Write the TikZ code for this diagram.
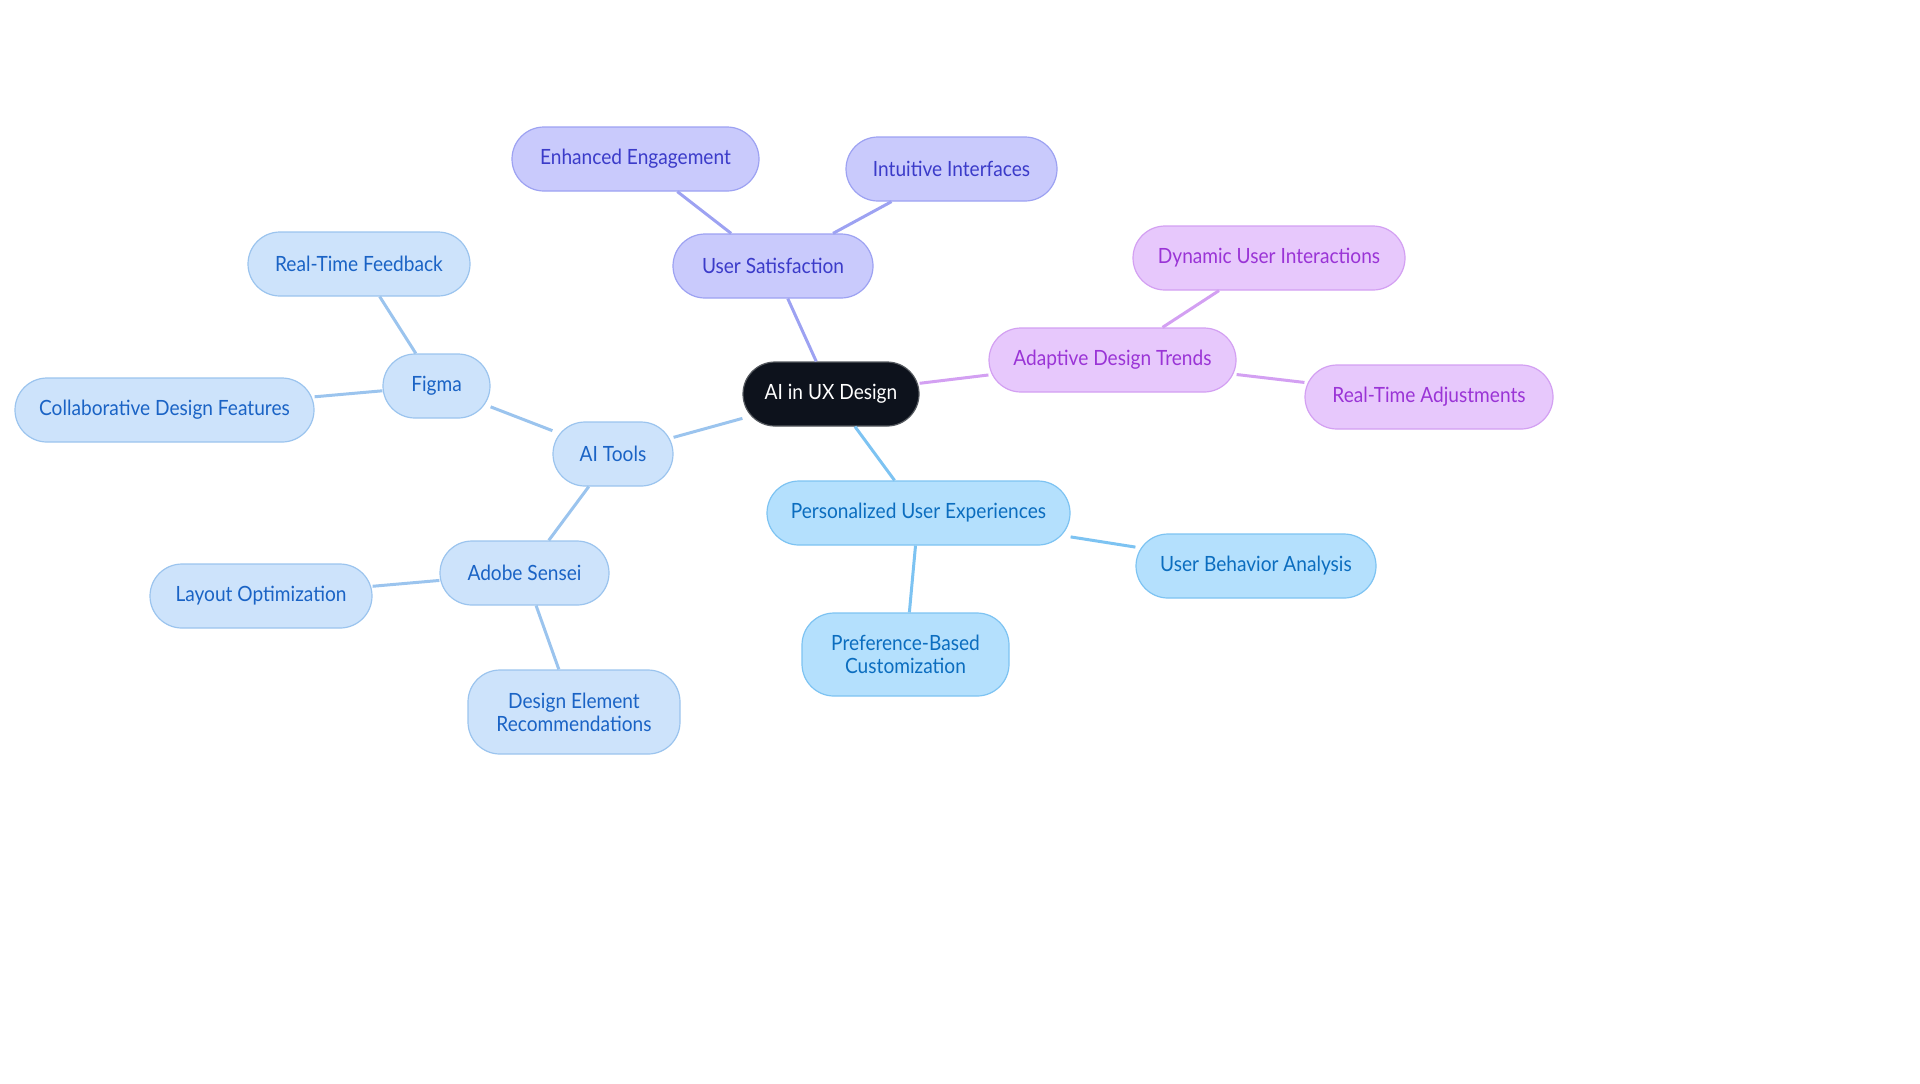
\documentclass[tikz,border=0pt]{standalone}
\usepackage{fontspec}
\setmainfont[FakeStretch=0.91]{Lato}

\definecolor{noir}{HTML}{0D121C}
\definecolor{noirbord}{HTML}{55595F}
\definecolor{satfond}{HTML}{C9CAFC}
\definecolor{satbord}{HTML}{9DA2F2}
\definecolor{sattexte}{HTML}{3B3BC9}
\definecolor{adafond}{HTML}{E7C8FC}
\definecolor{adabord}{HTML}{D3A0F2}
\definecolor{adatexte}{HTML}{9A34D6}
\definecolor{perfond}{HTML}{B4E0FD}
\definecolor{perbord}{HTML}{7DC3F2}
\definecolor{pertexte}{HTML}{0B6DBF}
\definecolor{outfond}{HTML}{CDE3FB}
\definecolor{outbord}{HTML}{9BC4EE}
\definecolor{outtexte}{HTML}{1A63C5}

\begin{document}
\begin{tikzpicture}[x=0.5pt, y=-0.5pt,
    bulle/.style={rounded corners=16pt, minimum height=32pt, inner sep=0pt,
        line width=0.6pt, align=center,
        font=\fontsize{10.5}{11.5}\selectfont},
    sat/.style={bulle, fill=satfond, draw=satbord, text=sattexte},
    ada/.style={bulle, fill=adafond, draw=adabord, text=adatexte},
    per/.style={bulle, fill=perfond, draw=perbord, text=pertexte},
    outil/.style={bulle, fill=outfond, draw=outbord, text=outtexte},
    lien/.style={line width=1.5pt}]
    \useasboundingbox (0,0) rectangle (1920,1083);

    % Centre
    \node[bulle, fill=noir, draw=noirbord, text=white, minimum width=88pt] (UX) at (831,394) {AI in UX Design};

    % User Satisfaction
    \node[sat, minimum width=100pt] (US) at (773,266) {User Satisfaction};
    \node[sat, minimum width=123.5pt] (EE) at (635.5,159) {Enhanced Engagement};
    \node[sat, minimum width=105.5pt] (II) at (951.5,169) {Intuitive Interfaces};

    % Adaptive Design Trends
    \node[ada, minimum width=123.5pt] (ADT) at (1112.5,360) {Adaptive Design Trends};
    \node[ada, minimum width=136pt] (DUI) at (1269,258) {Dynamic User Interactions};
    \node[ada, minimum width=124pt] (RTA) at (1429,397) {Real-Time Adjustments};

    % Personalized User Experiences
    \node[per, minimum width=151.5pt] (PUE) at (918.5,513) {Personalized User Experiences};
    \node[per, minimum width=120pt] (UBA) at (1256,566) {User Behavior Analysis};
    \node[per, minimum width=103.5pt, minimum height=41.5pt] (PBC) at (905.5,654.5) {Preference-Based\\Customization};

    % AI Tools
    \node[outil, minimum width=60pt] (AT) at (613,454) {AI Tools};
    \node[outil, minimum width=53.5pt] (FG) at (436.5,386) {Figma};
    \node[outil, minimum width=111pt] (RTF) at (359,264) {Real-Time Feedback};
    \node[outil, minimum width=149.5pt] (CDF) at (164.5,410) {Collaborative Design Features};
    \node[outil, minimum width=84.5pt] (AS) at (524.5,573) {Adobe Sensei};
    \node[outil, minimum width=111pt] (LO) at (261,596) {Layout Optimization};
    \node[outil, minimum width=106pt, minimum height=42pt] (DER) at (574,712) {Design Element\\Recommendations};

    % Liens
    \draw[lien, color=satbord] (UX) -- (US);
    \draw[lien, color=satbord] (US) -- (EE);
    \draw[lien, color=satbord] (US) -- (II);
    \draw[lien, color=adabord] (UX) -- (ADT);
    \draw[lien, color=adabord] (ADT) -- (DUI);
    \draw[lien, color=adabord] (ADT) -- (RTA);
    \draw[lien, color=perbord] (UX) -- (PUE);
    \draw[lien, color=perbord] (PUE) -- (UBA);
    \draw[lien, color=perbord] (PUE) -- (PBC);
    \draw[lien, color=outbord] (UX) -- (AT);
    \draw[lien, color=outbord] (AT) -- (FG);
    \draw[lien, color=outbord] (FG) -- (RTF);
    \draw[lien, color=outbord] (FG) -- (CDF);
    \draw[lien, color=outbord] (AT) -- (AS);
    \draw[lien, color=outbord] (AS) -- (LO);
    \draw[lien, color=outbord] (AS) -- (DER);
\end{tikzpicture}
\end{document}
